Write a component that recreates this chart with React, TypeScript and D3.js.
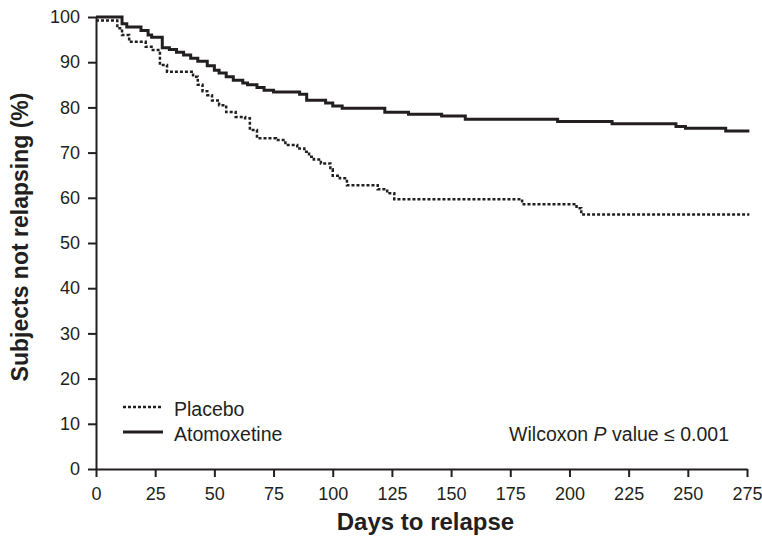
import { useEffect, useRef } from 'react';
import * as d3 from 'd3';

// Kaplan-Meier steps (day, % not relapsing)
const atomoxetineDays = [0, 11, 13, 19, 22, 23.5, 28, 31, 34, 37, 40, 43, 47, 50, 52, 55, 58, 62, 64, 68, 71, 75, 86, 89, 97, 100, 104, 122, 132, 146, 156, 195, 218, 245, 249, 266, 276];
const atomoxetinePct = [100, 98.5, 97.8, 97.0, 96.0, 95.5, 93.2, 92.8, 92.2, 91.6, 90.9, 90.2, 89.2, 88.2, 87.6, 86.8, 86.0, 85.4, 85.0, 84.4, 83.8, 83.4, 82.9, 81.6, 81.0, 80.3, 79.8, 78.9, 78.5, 78.1, 77.4, 76.9, 76.4, 75.8, 75.4, 74.8, 74.8];

const placeboDays = [0, 9, 11, 14, 21, 24, 27, 30, 41, 43, 45, 47, 49, 52, 55, 59, 63, 65, 68, 76, 80, 85, 88, 90, 92, 95, 99, 100, 103, 106, 119, 123, 126, 180, 203, 205, 276];
const placeboPct = [99.2, 97.5, 96.0, 94.5, 93.4, 92.7, 89.4, 87.9, 86.8, 85.0, 83.6, 82.7, 81.5, 80.5, 79.0, 77.9, 77.6, 75.0, 73.2, 72.8, 71.7, 70.9, 70.2, 69.1, 68.5, 67.6, 66.3, 64.9, 64.3, 62.8, 61.9, 61.0, 59.7, 58.6, 57.7, 56.3, 56.3];

const xTicks = [0, 25, 50, 75, 100, 125, 150, 175, 200, 225, 250, 275];
const yTicks = [0, 10, 20, 30, 40, 50, 60, 70, 80, 90, 100];

const FONT = '"Liberation Sans", Arial, Helvetica, sans-serif';
const INK = '#231f20';

export default function App() {
  const ref = useRef<SVGSVGElement>(null);

  useEffect(() => {
    if (!ref.current) return;
    const svg = d3.select(ref.current);
    svg.selectAll('*').remove();

    const W = 762, H = 542;
    const margin = { top: 17, right: 15, bottom: 73, left: 96 };
    const width = W - margin.left - margin.right;
    const height = H - margin.top - margin.bottom;

    const chart = svg.append('g').attr('transform', `translate(${margin.left},${margin.top})`);

    const x = d3.scaleLinear().domain([0, 275]).range([0, width]);
    const y = d3.scaleLinear().domain([0, 100]).range([height, 0]);

    const xAxis = chart.append('g')
      .attr('transform', `translate(0,${height})`)
      .call(d3.axisBottom(x).tickValues(xTicks).tickSize(8).tickSizeOuter(0).tickPadding(10));
    const yAxis = chart.append('g')
      .call(d3.axisLeft(y).tickValues(yTicks).tickSize(8).tickSizeOuter(0).tickPadding(8));

    [xAxis, yAxis].forEach(a => {
      a.select('.domain').attr('stroke', INK).attr('stroke-width', 2);
      a.selectAll('.tick line').attr('stroke', INK).attr('stroke-width', 2);
      a.selectAll('.tick text')
        .attr('fill', INK)
        .style('font-family', FONT)
        .style('font-size', '18px');
    });

    const line = d3.line<[number, number]>()
      .x(d => x(d[0]))
      .y(d => y(d[1]))
      .curve(d3.curveStepAfter);

    const pbo = placeboDays.map((d, i) => [d, placeboPct[i]] as [number, number]);
    const ato = atomoxetineDays.map((d, i) => [d, atomoxetinePct[i]] as [number, number]);

    chart.append('path')
      .datum(pbo)
      .attr('fill', 'none')
      .attr('stroke', INK)
      .attr('stroke-width', 2.5)
      .attr('stroke-dasharray', '3,2')
      .attr('d', line);

    chart.append('path')
      .datum(ato)
      .attr('fill', 'none')
      .attr('stroke', INK)
      .attr('stroke-width', 3)
      .attr('d', line);

    // legend
    const legend = svg.append('g');
    const items = [
      { label: 'Placebo', dash: '3,2', w: 2.5, y: 407 },
      { label: 'Atomoxetine', dash: null, w: 3, y: 432 },
    ];
    items.forEach(it => {
      legend.append('line')
        .attr('x1', 123).attr('x2', 163)
        .attr('y1', it.y).attr('y2', it.y)
        .attr('stroke', INK)
        .attr('stroke-width', it.w)
        .attr('stroke-dasharray', it.dash);
      legend.append('text')
        .attr('x', 174).attr('y', it.y + 4)
        .attr('dy', '0.25em')
        .attr('fill', INK)
        .style('font-family', FONT)
        .style('font-size', '19.5px')
        .text(it.label);
    });

    const pv = svg.append('text')
      .attr('x', 729).attr('y', 441)
      .attr('text-anchor', 'end')
      .attr('fill', INK)
      .style('font-family', FONT)
      .style('font-size', '19.5px');
    pv.append('tspan').text('Wilcoxon ');
    pv.append('tspan').style('font-style', 'italic').text('P');
    pv.append('tspan').text(' value \u2264 0.001');

    svg.append('text')
      .attr('x', margin.left + width / 2 + 4)
      .attr('y', 530)
      .attr('text-anchor', 'middle')
      .attr('fill', INK)
      .style('font-family', FONT)
      .style('font-size', '24px')
      .style('font-weight', 'bold')
      .text('Days to relapse');

    svg.append('text')
      .attr('transform', `translate(28,${margin.top + height / 2 - 6}) rotate(-90)`)
      .attr('text-anchor', 'middle')
      .attr('fill', INK)
      .style('font-family', FONT)
      .style('font-size', '23px')
      .style('font-weight', 'bold')
      .text('Subjects not relapsing (%)');
  }, []);

  return (
    <svg
      ref={ref}
      width={762}
      height={542}
      style={{ position: 'fixed', left: 0, top: 0, background: '#fff' }}
    />
  );
}
